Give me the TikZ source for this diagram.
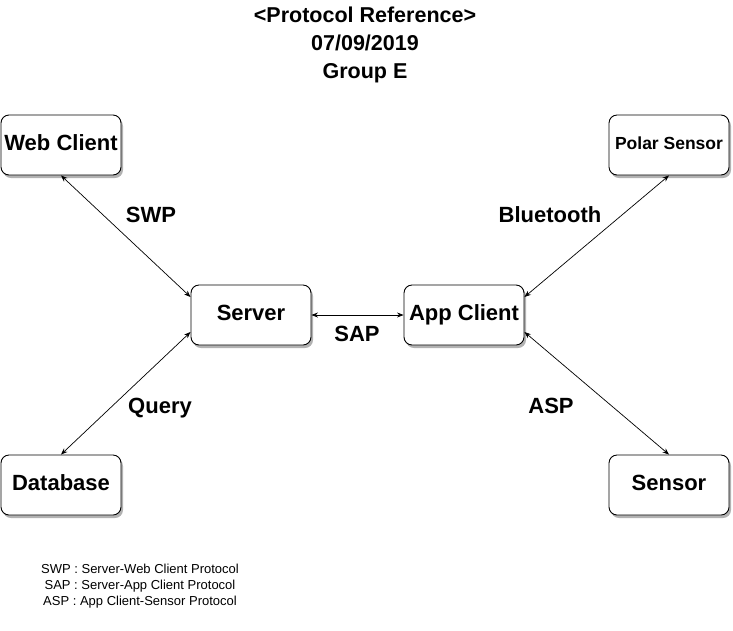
\documentclass[tikz,border=0pt]{standalone}
\usepackage{fontspec}
\setmainfont{Liberation Sans}
\usetikzlibrary{arrows.meta,shadows,calc}
\begin{document}
\begin{tikzpicture}[x=1pt,y=-1pt,
  box/.style={draw=black,line width=0.9pt,fill=white,rounded corners=8pt,
    minimum width=120pt,minimum height=60pt,inner sep=0pt,
    text height=15pt,text depth=4pt,
    font=\fontsize{22}{24}\selectfont\bfseries,
    drop shadow={shadow xshift=2pt,shadow yshift=-3pt,fill=black,opacity=0.3}},
  lbl/.style={font=\fontsize{22}{24}\selectfont\bfseries,inner sep=0pt,text height=15pt,text depth=4pt},
  link/.style={line width=0.7pt,{Stealth[length=6.5pt,width=5pt]}-{Stealth[length=6.5pt,width=5pt]}},
  ttl/.style={font=\fontsize{21.5}{28}\selectfont\bfseries,align=center,inner sep=0pt},
  lgd/.style={font=\fontsize{13}{16}\selectfont,align=center,inner sep=0pt}]
\useasboundingbox (0,0) rectangle (733,630);
\node[ttl] (title) at (365,45) {<Protocol Reference>\\07/09/2019\\Group E};
\node[box] (web) at (61,145) {Web Client};
\node[box] (db) at (61,485) {Database};
\node[box] (server) at (251,315) {Server};
\node[box] (app) at (464,315) {App Client};
\node[box,font=\fontsize{17.5}{20}\selectfont\bfseries,text height=12pt,text depth=3pt] (polar) at (669,145) {Polar Sensor};
\node[box] (sensor) at (669,485) {Sensor};
\draw[link] (web.south) -- ([yshift=18pt]server.west);
\draw[link] (db.north) -- ([yshift=-17pt]server.west);
\draw[link] (server.east) -- (app.west);
\draw[link] (polar.south) -- ([yshift=18pt]app.east);
\draw[link] (sensor.north) -- ([yshift=-17pt]app.east);
\node[lbl] (swp) at (151,217) {SWP};
\node[lbl] (bt) at (550,217) {Bluetooth};
\node[lbl] (sap) at (357,336) {SAP};
\node[lbl] (query) at (160,408) {Query};
\node[lbl] (asp) at (551,408) {ASP};
\node[lgd] (legend) at (140,586) {SWP : Server-Web Client Protocol\\SAP : Server-App Client Protocol\\ASP : App Client-Sensor Protocol};
\end{tikzpicture}
\end{document}
